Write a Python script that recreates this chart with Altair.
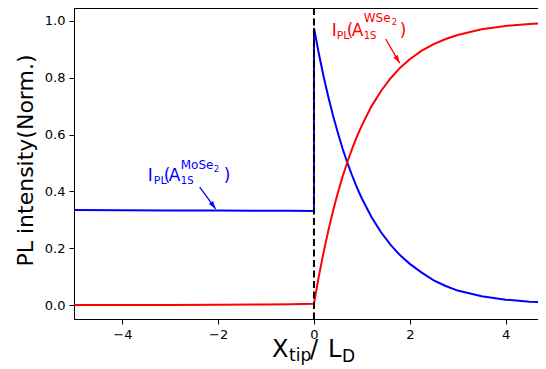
import altair as alt
import pandas as pd

# ---- data ----
x_left = [-5.0, -4.0, -3.0, -2.0, -1.0, -0.5, 0.0]
blue_left = [0.334, 0.3335, 0.333, 0.3325, 0.332, 0.3315, 0.331]
red_left = [0.000, 0.000, 0.0005, 0.001, 0.002, 0.003, 0.005]

x_right = [0.0, 0.1, 0.2, 0.3, 0.4, 0.5, 0.6, 0.7, 0.8, 0.9, 1.0, 1.2, 1.4,
           1.6, 1.8, 2.0, 2.25, 2.5, 2.75, 3.0, 3.5, 4.0, 4.5, 5.0]
blue_right = [0.975, 0.886, 0.805, 0.732, 0.665, 0.605, 0.549, 0.499, 0.454,
              0.412, 0.375, 0.310, 0.256, 0.212, 0.175, 0.145, 0.114, 0.087,
              0.067, 0.051, 0.031, 0.019, 0.012, 0.008]
red_right = [0.005, 0.100, 0.185, 0.262, 0.333, 0.396, 0.453, 0.505, 0.551,
             0.594, 0.632, 0.699, 0.753, 0.798, 0.835, 0.865, 0.895, 0.918,
             0.936, 0.950, 0.970, 0.982, 0.989, 0.993]

series_names = ["MoSe2", "WSe2"]
series_colors = ["#0000ff", "#ff0000"]

x_ticks = [-4, -2, 0, 2, 4]
y_ticks = [0.0, 0.2, 0.4, 0.6, 0.8, 1.0]
x_domain = [-5.01, 4.677]
y_domain = [-0.049, 1.045]

# annotation anchors (data units) and arrows
ann_x = [-3.47, 0.37]
ann_y = [0.436, 0.946]
arrow_x = [-2.386, 1.497]
arrow_y = [0.415, 0.936]
arrow_x2 = [-2.052, 1.789]
arrow_y2 = [0.338, 0.851]
arrow_angle = [144, 150]

rows = []
k = 0
for name, left, right in [("MoSe2", blue_left, blue_right), ("WSe2", red_left, red_right)]:
    for xv, yv in zip(x_left + x_right, left + right):
        rows.append({"x": xv, "y": yv, "series": name, "order": k})
        k += 1
df = pd.DataFrame(rows)

W, H = 464, 311
FONT = "DejaVu Sans"

xs = alt.Scale(domain=x_domain, nice=False, zero=False)
ys = alt.Scale(domain=y_domain, nice=False, zero=False)

x_axis = alt.Axis(values=x_ticks, format="d", title=None, grid=False,
                  labelFont=FONT, labelFontSize=13, labelColor="black",
                  tickColor="black", tickSize=5, tickWidth=1,
                  domainColor="black", domainWidth=1, labelPadding=4)
y_axis = alt.Axis(values=y_ticks, format=".1f", title="PL intensity(Norm.)",
                  grid=False, labelFont=FONT, labelFontSize=13,
                  labelColor="black", tickColor="black", tickSize=5,
                  tickWidth=1, domainColor="black", domainWidth=1,
                  labelPadding=4, titleFont=FONT, titleFontSize=22,
                  titleFontWeight="normal", titleColor="black",
                  titleX=-42, titleY=152, titleBaseline="alphabetic",
                  titleAlign="center", titleAngle=270)

lines = alt.Chart(df).mark_line(strokeWidth=2, clip=True).encode(
    x=alt.X("x:Q", scale=xs, axis=x_axis),
    y=alt.Y("y:Q", scale=ys, axis=y_axis),
    color=alt.Color("series:N", scale=alt.Scale(domain=series_names, range=series_colors), legend=None),
    order=alt.Order("order:Q"),
)

vline = alt.Chart(pd.DataFrame({"x": [0.0]})).mark_rule(
    color="black", strokeWidth=2, strokeDash=[7, 3.5]
).encode(x=alt.X("x:Q", scale=xs))

top_spine = alt.Chart(pd.DataFrame({"a": [0]})).mark_rule(color="black", strokeWidth=1).encode(
    x=alt.value(0), x2=alt.value(W), y=alt.value(0.5)
)

arr_df = pd.DataFrame({"x": arrow_x, "y": arrow_y, "x2": arrow_x2, "y2": arrow_y2,
                       "ang": arrow_angle, "c": series_colors})
arrow_lines = alt.Chart(arr_df).mark_rule(strokeWidth=1.3).encode(
    x=alt.X("x:Q", scale=xs), y=alt.Y("y:Q", scale=ys), x2="x2:Q", y2="y2:Q",
    color=alt.Color("c:N", scale=None)
)
arrow_heads = alt.Chart(arr_df).mark_point(
    shape="M0,0L0.32,1L-0.32,1Z", filled=True, size=260, opacity=1, strokeWidth=0
).encode(
    x=alt.X("x2:Q", scale=xs), y=alt.Y("y2:Q", scale=ys),
    angle=alt.Angle("ang:Q", scale=None),
    color=alt.Color("c:N", scale=None)
)

# rich-text annotation pieces: (text, fontSize, dx, dy)
pieces = [
    [("I", 17, 0, 0), ("PL", 11, 6, 3), ("(", 17, 16, 0), ("A", 17, 21, 0),
     ("1S", 10, 33, 3), ("MoSe", 12, 33, -12), ("2", 8.5, 66, -9), (")", 17, 76, 0)],
    [("I", 17, 0, 0), ("PL", 11, 5, 3), ("(", 17, 15, 0), ("A", 17, 20, 0),
     ("1S", 10, 32, 3), ("WSe", 12, 32, -14), ("2", 8.5, 60, -11), (")", 17, 68, 0)],
]
ann_layers = []
for i in range(2):
    adf = pd.DataFrame({"x": [ann_x[i]], "y": [ann_y[i]]})
    for txt, fs, dx, dy in pieces[i]:
        ann_layers.append(
            alt.Chart(adf).mark_text(text=txt, font=FONT, fontSize=fs, dx=dx, dy=dy,
                                     align="left", baseline="alphabetic",
                                     color=series_colors[i]).encode(
                x=alt.X("x:Q", scale=xs), y=alt.Y("y:Q", scale=ys))
        )

# x-axis title with subscripts
xt_pieces = [("X", 24, 198, 349), ("tip", 17, 215, 353), ("/", 24, 236, 349),
             ("L", 24, 254, 349), ("D", 17, 268, 354)]
dummy = pd.DataFrame({"a": [0]})
xt_layers = []
for txt, fs, cx, cy in xt_pieces:
    xt_layers.append(
        alt.Chart(dummy).mark_text(text=txt, font=FONT, fontSize=fs, align="left",
                                   baseline="alphabetic", color="black").encode(
            x=alt.value(cx), y=alt.value(cy))
    )

chart = alt.layer(lines, vline, top_spine, arrow_lines, arrow_heads,
                  *ann_layers, *xt_layers).properties(
    width=W, height=H,
    padding={"left": 66, "top": 0, "right": 0, "bottom": 50},
    autosize=alt.AutoSizeParams(type="none"),
).configure_view(stroke=None).configure(background="white")

chart.save("out.html", embed_options={"renderer": "svg", "actions": False})
